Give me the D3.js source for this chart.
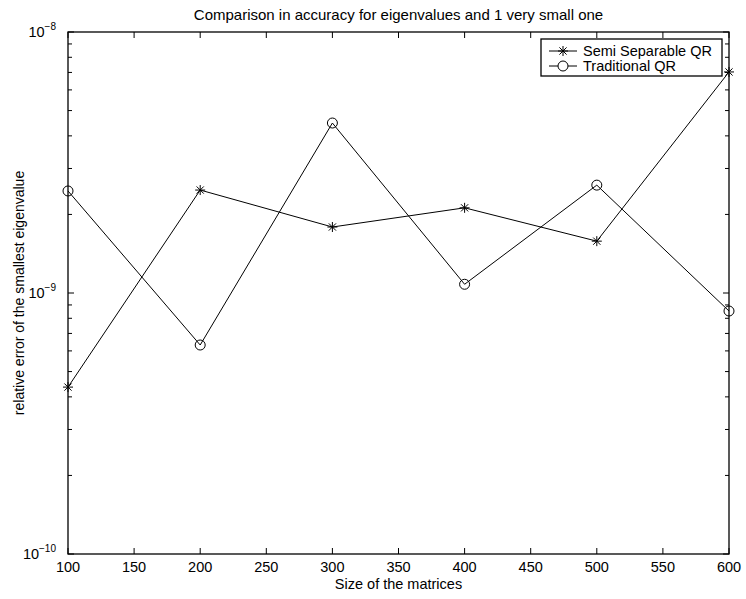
<!DOCTYPE html>
<html>
<head>
<meta charset="utf-8">
<script src="https://cdn.jsdelivr.net/npm/d3@7"></script>
<style>
  body { margin: 0; background: #fff; }
  svg text { font-family: "Liberation Sans", Arial, Helvetica, sans-serif; fill: #000; }
</style>
</head>
<body>
<div id="chart"></div>
<script>
// data
var sizes = [100, 200, 300, 400, 500, 600];
var semiSeparable = [4.36e-10, 2.48e-9, 1.79e-9, 2.12e-9, 1.58e-9, 7.03e-9];
var traditional = [2.46e-9, 6.32e-10, 4.48e-9, 1.08e-9, 2.59e-9, 8.53e-10];
var xTicks = [100, 150, 200, 250, 300, 350, 400, 450, 500, 550, 600];
var yDecades = [-10, -9, -8];
var seriesNames = ["Semi Separable QR", "Traditional QR"];

var width = 746, height = 599;
var margin = {top: 32, right: 17, bottom: 45, left: 68};
var w = width - margin.left - margin.right, h = height - margin.top - margin.bottom;

var svg = d3.select("#chart").append("svg")
    .attr("width", width)
    .attr("height", height);

var g = svg.append("g")
    .attr("transform", "translate(" + margin.left + "," + margin.top + ")");

var x = d3.scaleLinear().domain([100, 600]).range([0, w]);
var y = d3.scaleLog().domain([1e-10, 1e-8]).range([h, 0]);

// minor ticks for the log axis
var minor = [];
[-10, -9].forEach(function(e) {
    for (var m = 2; m <= 9; m++) minor.push(m * Math.pow(10, e));
});

// ticks drawn inside, on every side
var ticks = g.append("g").attr("stroke", "#000").attr("stroke-width", 1);
xTicks.forEach(function(t) {
    ticks.append("line").attr("x1", x(t)).attr("x2", x(t)).attr("y1", h).attr("y2", h - 6);
    ticks.append("line").attr("x1", x(t)).attr("x2", x(t)).attr("y1", 0).attr("y2", 6);
});
yDecades.forEach(function(e) {
    var v = Math.pow(10, e);
    ticks.append("line").attr("x1", 0).attr("x2", 6).attr("y1", y(v)).attr("y2", y(v));
    ticks.append("line").attr("x1", w).attr("x2", w - 6).attr("y1", y(v)).attr("y2", y(v));
});
minor.forEach(function(v) {
    ticks.append("line").attr("x1", 0).attr("x2", 4).attr("y1", y(v)).attr("y2", y(v));
    ticks.append("line").attr("x1", w).attr("x2", w - 4).attr("y1", y(v)).attr("y2", y(v));
});

// frame
g.append("rect")
    .attr("width", w).attr("height", h)
    .attr("fill", "none").attr("stroke", "#000").attr("stroke-width", 1.3);

// x tick labels
g.selectAll(".xlab")
    .data(xTicks)
    .enter().append("text")
    .attr("class", "xlab")
    .attr("x", function(d) { return x(d); })
    .attr("y", h + 18)
    .attr("text-anchor", "middle")
    .attr("font-size", "14.5px")
    .text(function(d) { return d; });

// y tick labels, 10 with exponent
var ylab = g.selectAll(".ylab")
    .data(yDecades)
    .enter().append("text")
    .attr("class", "ylab")
    .attr("x", -12)
    .attr("y", function(d) { return y(Math.pow(10, d)) + 5; })
    .attr("text-anchor", "end")
    .attr("font-size", "14.5px");
ylab.append("tspan").text("10");
ylab.append("tspan")
    .attr("dy", -7)
    .attr("font-size", "10px")
    .text(function(d) { return "\u2212" + Math.abs(d); });

// titles
svg.append("text")
    .attr("x", margin.left + w / 2)
    .attr("y", 20)
    .attr("text-anchor", "middle")
    .attr("font-size", "15px")
    .text("Comparison in accuracy for eigenvalues and 1 very small one");

svg.append("text")
    .attr("x", margin.left + w / 2)
    .attr("y", height - 10)
    .attr("text-anchor", "middle")
    .attr("font-size", "14.5px")
    .text("Size of the matrices");

svg.append("text")
    .attr("transform", "translate(24," + (margin.top + h / 2) + ") rotate(-90)")
    .attr("text-anchor", "middle")
    .attr("font-size", "14px")
    .text("relative error of the smallest eigenvalue");

// lines
var line = d3.line()
    .x(function(d) { return x(d[0]); })
    .y(function(d) { return y(d[1]); });

var semiPts = sizes.map(function(s, i) { return [s, semiSeparable[i]]; });
var tradPts = sizes.map(function(s, i) { return [s, traditional[i]]; });

[semiPts, tradPts].forEach(function(pts) {
    g.append("path")
        .attr("d", line(pts))
        .attr("fill", "none")
        .attr("stroke", "#000")
        .attr("stroke-width", 1);
});

// star marker: + and x
function star(sel, cx, cy, r) {
    var d = r * 0.72;
    var p = "M" + (cx - r) + "," + cy + "H" + (cx + r) +
        "M" + cx + "," + (cy - r) + "V" + (cy + r) +
        "M" + (cx - d) + "," + (cy - d) + "L" + (cx + d) + "," + (cy + d) +
        "M" + (cx - d) + "," + (cy + d) + "L" + (cx + d) + "," + (cy - d);
    sel.append("path").attr("d", p).attr("stroke", "#000").attr("stroke-width", 1).attr("fill", "none");
}

semiPts.forEach(function(d) { star(g, x(d[0]), y(d[1]), 5); });

g.selectAll(".circ")
    .data(tradPts)
    .enter().append("circle")
    .attr("class", "circ")
    .attr("cx", function(d) { return x(d[0]); })
    .attr("cy", function(d) { return y(d[1]); })
    .attr("r", 5)
    .attr("fill", "none")
    .attr("stroke", "#000")
    .attr("stroke-width", 1);

// legend
var lg = svg.append("g").attr("transform", "translate(541,39)");
lg.append("rect")
    .attr("width", 181).attr("height", 37)
    .attr("fill", "#fff").attr("stroke", "#000").attr("stroke-width", 1.3);
seriesNames.forEach(function(name, i) {
    var ly = 12 + i * 15;
    lg.append("line").attr("x1", 8).attr("x2", 36).attr("y1", ly).attr("y2", ly)
        .attr("stroke", "#000").attr("stroke-width", 1);
    if (i == 0) star(lg, 22, ly, 5);
    else lg.append("circle").attr("cx", 22).attr("cy", ly).attr("r", 5)
        .attr("fill", "#fff").attr("stroke", "#000").attr("stroke-width", 1);
    lg.append("text").attr("x", 42).attr("y", ly + 5)
        .attr("font-size", "14.5px").text(name);
});
</script>
</body>
</html>
